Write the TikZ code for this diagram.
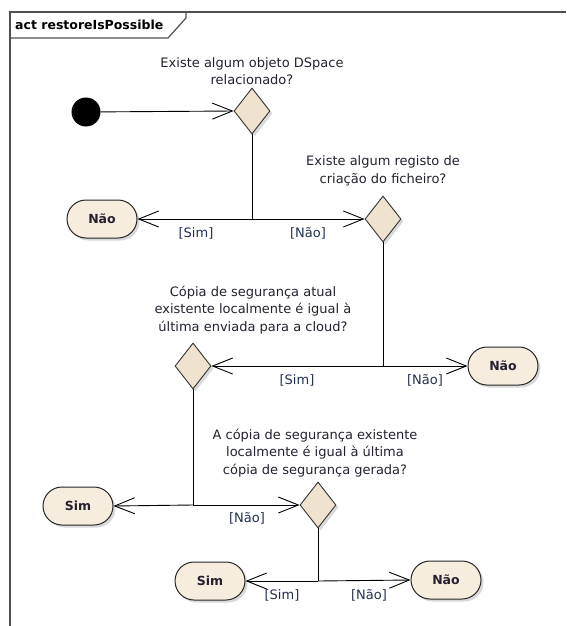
\documentclass[tikz,border=0pt]{standalone}
\usepackage{fontspec}
\setmainfont{DejaVu Sans}
\usetikzlibrary{shapes.geometric,arrows.meta,shadows}
\definecolor{framegray}{HTML}{505050}
\definecolor{nodefill}{HTML}{F6EDDE}
\definecolor{decfill}{HTML}{EFE3D0}
\definecolor{guardcol}{HTML}{22304F}
\definecolor{textcol}{HTML}{262030}
\tikzset{
  flow/.style={draw=black, line width=0.9pt},
  arr/.style={flow, -{Straight Barb[length=20pt, width=16pt, line width=0.9pt]}},
  decision/.style={diamond, draw=black!80, line width=0.9pt, fill=decfill,
    minimum width=36pt, minimum height=46pt, inner sep=0pt,
    drop shadow={shadow xshift=2.5pt, shadow yshift=-2.5pt, opacity=0.3}},
  finalbox/.style={rectangle, rounded corners=19pt, draw=black!85, line width=1pt,
    fill=nodefill, minimum width=70pt, minimum height=38pt, inner sep=0pt,
    font=\fontsize{12.5}{14}\selectfont\bfseries, text=textcol,
    drop shadow={shadow xshift=2.5pt, shadow yshift=-2.5pt, opacity=0.3}},
  question/.style={align=center, font=\fontsize{13}{17.5}\selectfont, text=textcol, inner sep=0pt},
  guard/.style={font=\fontsize{13}{14}\selectfont, text=guardcol, inner sep=0pt},
  startdot/.style={circle, fill=black, minimum size=29pt, inner sep=0pt}
}
\begin{document}
\begin{tikzpicture}[x=1pt, y=-1pt]
\useasboundingbox (0,0) rectangle (566,626);
% diagram frame and title tab
\draw[framegray, line width=1.4pt] (10,626) -- (10,12) -- (566,12);
\draw[framegray, line width=1.2pt] (10,38) -- (168,38) -- (186,18) -- (186,12);
\node[anchor=west, inner sep=0pt, font=\fontsize{12.5}{14}\selectfont\bfseries] (title) at (15,25) {act restoreIsPossible};

% nodes
\node[startdot] (start) at (86,112) {};
\node[decision] (d1) at (252,111) {};
\node[question] (q1) at (252,71) {Existe algum objeto DSpace\\relacionado?};
\node[finalbox] (n1) at (102,219) {Não};
\node[decision] (d2) at (383,219) {};
\node[question] (q2) at (383,171) {Existe algum registo de\\criação do ficheiro?};
\node[decision] (d3) at (193,366) {};
\node[question] (q3) at (253,310) {Cópia de segurança atual\\existente localmente é igual à\\última enviada para a cloud?};
\node[finalbox] (n2) at (503,366) {Não};
\node[finalbox] (s1) at (78,506) {Sim};
\node[decision] (d4) at (318,505) {};
\node[question] (q4) at (315,453) {A cópia de segurança existente\\localmente é igual à última\\cópia de segurança gerada?};
\node[finalbox] (s2) at (210,581) {Sim};
\node[finalbox] (n3) at (446,580) {Não};

% branch points
\coordinate (j1) at (252,219);
\coordinate (j2) at (383,366);
\coordinate (j3) at (193,505);
\coordinate (j4) at (318,581);

% connectors
\draw[arr] (start) -- (d1.west);
\draw[flow] (d1.south) -- (j1);
\draw[arr] (j1) -- (n1.east);
\draw[arr] (j1) -- (d2.west);
\draw[flow] (d2.south) -- (j2);
\draw[arr] (j2) -- (d3.east);
\draw[arr] (j2) -- (n2.west);
\draw[flow] (d3.south) -- (j3);
\draw[arr] (j3) -- (s1.east);
\draw[arr] (j3) -- (d4.west);
\draw[flow] (d4.south) -- (j4);
\draw[arr] (j4) -- (s2.east);
\draw[arr] (j4) -- (n3.west);

% guard labels
\node[guard] (g1) at (196,233) {[Sim]};
\node[guard] (g2) at (308,233) {[Não]};
\node[guard] (g3) at (297,380) {[Sim]};
\node[guard] (g4) at (425,380) {[Não]};
\node[guard] (g5) at (247,518) {[Não]};
\node[guard] (g6) at (282,595) {[Sim]};
\node[guard] (g7) at (369,595) {[Não]};
\end{tikzpicture}
\end{document}
